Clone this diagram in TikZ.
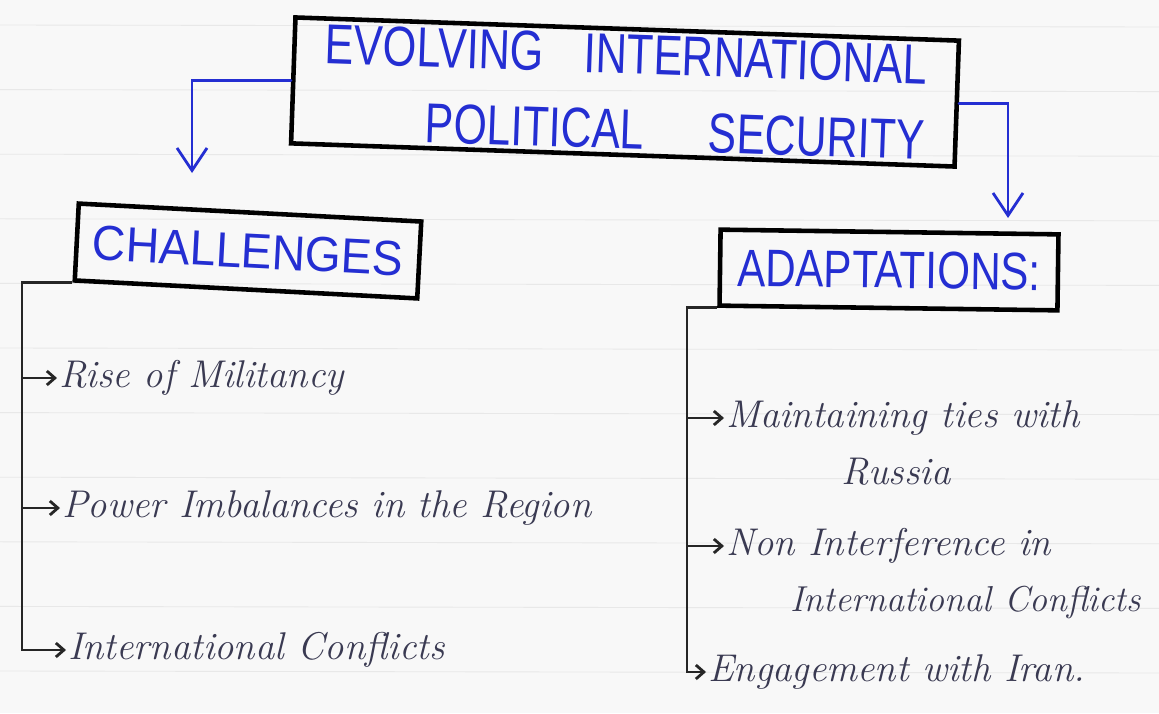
\documentclass[tikz,border=0pt]{standalone}
\usepackage{fontspec}
\setsansfont{Liberation Sans}
\usepackage{xcolor}
\usepackage{tikz}
\usetikzlibrary{arrows.meta,positioning}

\definecolor{inkblue}{RGB}{36,46,210}
\definecolor{pencil}{RGB}{58,58,82}
\definecolor{paper}{RGB}{248,248,248}

% squeeze hand lettered capitals sideways
\newcommand{\narrow}[2]{\scalebox{#1}[1]{#2}}

\begin{document}
\begin{tikzpicture}[x=0.02cm, y=-0.02cm,
  headbox/.style={draw=black, line width=2.6pt, inner sep=0pt, text=inkblue, font=\sffamily},
  link/.style={draw=inkblue, line width=1.6pt, line cap=round,
    -{Straight Barb[length=0.45cm, width=0.6cm, line width=1.6pt]}},
  tree/.style={draw=black!85, line width=1.6pt},
  twig/.style={tree, -{Straight Barb[length=1.6mm, width=2.8mm]}},
  item/.style={text=pencil, font=\itshape\fontsize{22}{26}\selectfont, inner sep=1pt, anchor=west},
  ruling/.style={draw=black!9, line width=0.5pt}]

% paper and its faint ruling
\fill[paper] (0,0) rectangle (1159,713);
\useasboundingbox (0,0) rectangle (1159,713);
\foreach \k in {0,...,10}
  \draw[ruling] (0,25+64.6*\k) -- (1159,27+64.6*\k);

% title
\node[headbox, rotate=-2, minimum width=13.28cm, minimum height=2.52cm, align=right,
  font=\sffamily\fontsize{32}{43}\selectfont] (title) at (625,92)
  {\narrow{0.77}{EVOLVING\hspace{1.05cm}INTERNATIONAL}\\
   \narrow{0.76}{POLITICAL\hspace{1.7cm}SECURITY}};

% the two headings
\node[headbox, rotate=-3, minimum width=6.86cm, minimum height=1.54cm,
  font=\sffamily\fontsize{28}{32}\selectfont] (challenges) at (248,251)
  {\narrow{0.94}{CHALLENGES}};
\node[headbox, rotate=-0.8, minimum width=6.76cm, minimum height=1.52cm,
  font=\sffamily\fontsize{30}{34}\selectfont] (adapt) at (889,270)
  {\narrow{0.8}{ADAPTATIONS:}};

\coordinate (chtip) at (192,173);
\coordinate (adtip) at (1008,218);
\draw[link] (title.west) -| (chtip);
\draw[link] (title.east) -| (adtip);

% challenges list
\node[item] (rise) at (57,378) {Rise of Militancy};
\node[item] (power) at (60,508) {Power Imbalances in the Region};
\node[item] (intl) at (66,650) {International Conflicts};

\coordinate (ltrunk) at (22,272);
\draw[twig] (challenges.south west) -| (ltrunk |- intl.west) -- (intl.west);
\draw[twig] (ltrunk |- rise.west) -- (rise.west);
\draw[twig] (ltrunk |- power.west) -- (power.west);

% adaptations list
\node[item] (maint) at (724,418) {Maintaining ties with};
\node[item, anchor=center] (russia) at (896,472) {Russia};
\node[item] (nonint) at (724,546) {Non Interference in};
\node[item, font=\itshape\fontsize{20.5}{24}\selectfont] (conflicts) at (788,602) {International Conflicts};
\node[item] (engage) at (706,672) {Engagement with Iran.};

\coordinate (rtrunk) at (687,305);
\draw[twig] (adapt.south west) -| (rtrunk |- engage.west) -- (engage.west);
\draw[twig] (rtrunk |- maint.west) -- (maint.west);
\draw[twig] (rtrunk |- nonint.west) -- (nonint.west);
\end{tikzpicture}
\end{document}
